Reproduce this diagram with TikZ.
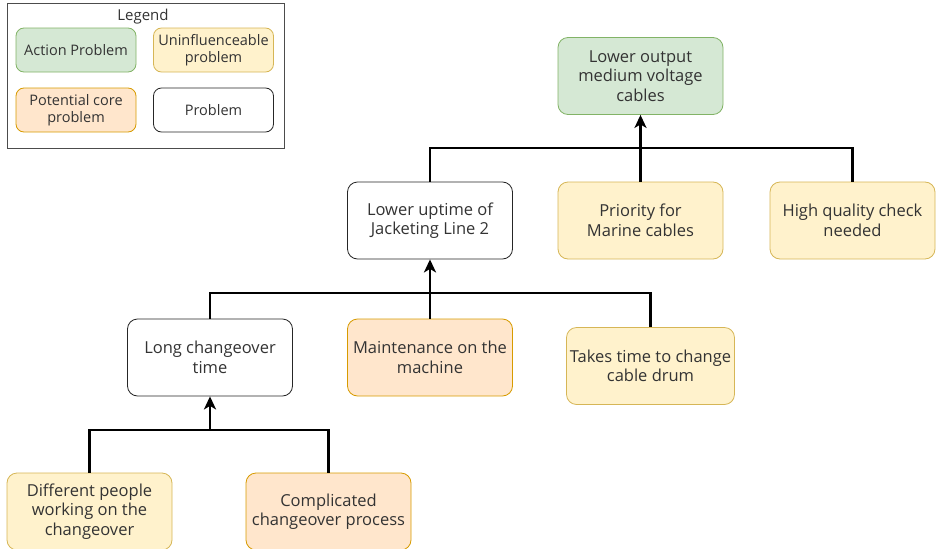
\documentclass[tikz,border=0pt]{standalone}
\usepackage{fontspec}
\setmainfont{Open Sans}
\usepackage{xcolor}
\usetikzlibrary{arrows.meta}
\definecolor{actfill}{HTML}{D5E8D4}
\definecolor{actdraw}{HTML}{82B366}
\definecolor{uninfill}{HTML}{FFF2CC}
\definecolor{unindraw}{HTML}{D6B656}
\definecolor{corefill}{HTML}{FFE6CC}
\definecolor{coredraw}{HTML}{D79B00}
\begin{document}
\begin{tikzpicture}[
  x=1pt, y=-1pt,
  font=\fontsize{16.5}{19.5}\selectfont,
  box/.style={draw, rounded corners=10pt, minimum width=165pt, minimum height=77pt, align=center, text=black!80, line width=0.8pt},
  act/.style={box, fill=actfill, draw=actdraw},
  unin/.style={box, fill=uninfill, draw=unindraw},
  core/.style={box, fill=corefill, draw=coredraw},
  prob/.style={box, fill=white, draw=black!85},
  key/.style={minimum width=120pt, minimum height=44pt, rounded corners=8pt, font=\fontsize{14.5}{17.5}\selectfont},
  ln/.style={line width=2.8pt, black},
  ar/.style={ln, -{Stealth[length=13pt, width=12pt, inset=3.5pt]}}
]
\useasboundingbox (0,0) rectangle (938,549);

% legend
\node[draw=black!70, line width=0.8pt, minimum width=277pt, minimum height=145pt] (legend) at (145.5,75.5) {};
\node[text=black!80, font=\fontsize{15}{18}\selectfont] (legtitle) at (143,17) {Legend};
\node[act, key] (kact) at (76,50) {Action Problem};
\node[unin, key] (kunin) at (213.5,50) {Uninfluenceable\\problem};
\node[core, key] (kcore) at (76,110) {Potential core\\problem};
\node[prob, key] (kprob) at (213.5,110) {Problem};

% tree
\node[act] (top) at (640.5,76) {Lower output\\medium voltage\\cables};
\node[prob] (upt) at (430,220.5) {Lower uptime of\\Jacketing Line 2};
\node[unin] (prio) at (640.5,220.5) {Priority for\\Marine cables};
\node[unin] (high) at (852.5,220.5) {High quality check\\needed};
\node[prob] (long) at (210,357.5) {Long changeover\\time};
\node[core] (maint) at (430,357.5) {Maintenance on the\\machine};
\node[unin] (takes) at (650.5,366) {Takes time to change\\cable drum};
\node[unin] (diff) at (89.5,511.5) {Different people\\working on the\\changeover};
\node[core] (comp) at (328.5,511.5) {Complicated\\changeover process};

\coordinate (j1) at (640.5,148);
\coordinate (j2) at (430,293);
\coordinate (j3) at (210,430);

\draw[ar] (prio.north) -- (top.south);
\draw[ln] (upt.north) |- (j1) -| (high.north);
\draw[ar] (maint.north) -- (upt.south);
\draw[ln] (long.north) |- (j2) -| (takes.north);
\draw[ar] (j3) -- (long.south);
\draw[ln] (diff.north) |- (j3) -| (comp.north);

\end{tikzpicture}
\end{document}
